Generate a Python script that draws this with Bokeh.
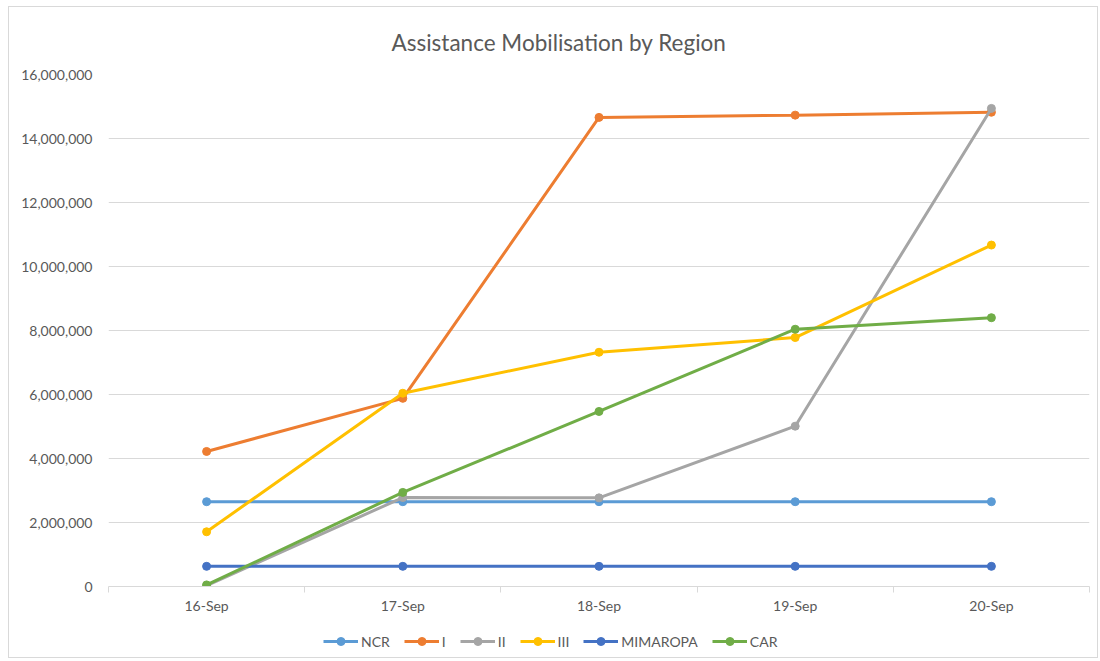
from bokeh.plotting import figure
from bokeh.layouts import column
from bokeh.models import Range1d, FixedTicker, NumeralTickFormatter, Legend, LegendItem
from bokeh.embed import file_html
from bokeh.resources import INLINE

dates = ["16-Sep", "17-Sep", "18-Sep", "19-Sep", "20-Sep"]
ncr = [2650000, 2650000, 2650000, 2650000, 2650000]
reg_i = [4220000, 5880000, 14660000, 14730000, 14820000]
reg_ii = [30000, 2780000, 2770000, 5010000, 14940000]
reg_iii = [1710000, 6040000, 7320000, 7780000, 10670000]
mimaropa = [630000, 630000, 630000, 630000, 630000]
car = [50000, 2940000, 5470000, 8040000, 8400000]

series_names = ["NCR", "I", "II", "III", "MIMAROPA", "CAR"]
series_values = [ncr, reg_i, reg_ii, reg_iii, mimaropa, car]
colors = ["#5B9BD5", "#ED7D31", "#A5A5A5", "#FFC000", "#4472C4", "#70AD47"]

FONT = "Lato"
GREY = "#595959"

xs = [i + 0.5 for i in range(len(dates))]

p = figure(width=1088, height=616, output_backend="svg", toolbar_location=None,
           x_range=Range1d(0, len(dates)), y_range=Range1d(0, 16000000),
           title="Assistance Mobilisation by Region",
           min_border_left=99, min_border_right=8, min_border_top=65, min_border_bottom=37)

p.title.align = "left"
p.title.text_font = FONT
p.title.text_font_size = "22.5px"
p.title.text_font_style = "normal"
p.title.text_color = GREY
p.title.offset = 283
p.title.standoff = 38

p.outline_line_color = None
p.background_fill_color = "white"
p.border_fill_color = "white"

p.xgrid.grid_line_color = None
p.ygrid.grid_line_color = "#d9d9d9"
p.ygrid.grid_line_width = 1

p.yaxis.ticker = FixedTicker(ticks=list(range(0, 16000001, 2000000)))
p.yaxis.formatter = NumeralTickFormatter(format="0,0")
p.yaxis.axis_line_color = None
p.yaxis.major_tick_line_color = None
p.yaxis.minor_tick_line_color = None
p.yaxis.major_label_text_font = FONT
p.yaxis.major_label_text_font_size = "14px"
p.yaxis.major_label_text_color = GREY
p.yaxis.major_label_standoff = 10

p.xaxis.ticker = FixedTicker(ticks=xs, minor_ticks=list(range(0, len(dates) + 1)))
p.xaxis.major_label_overrides = {x: d for x, d in zip(xs, dates)}
p.xaxis.axis_line_color = "#d9d9d9"
p.xaxis.major_tick_line_color = None
p.xaxis.minor_tick_line_color = "#d9d9d9"
p.xaxis.minor_tick_out = 6
p.xaxis.minor_tick_in = 0
p.xaxis.major_label_text_font = FONT
p.xaxis.major_label_text_font_size = "14px"
p.xaxis.major_label_text_color = GREY
p.xaxis.major_label_standoff = 4

# legend lives in its own strip below the chart; its renderers hold the same
# data but fall outside this strip's ranges, so only the legend shows
lg = figure(width=1088, height=34, output_backend="svg", toolbar_location=None,
            x_range=Range1d(-2, -1), y_range=Range1d(-2, -1),
            x_axis_location=None, y_axis_location=None,
            min_border_left=0, min_border_right=0, min_border_top=0, min_border_bottom=0)
lg.grid.visible = False
lg.outline_line_color = None
lg.border_fill_color = "white"

items = []
for name, vals, c in zip(series_names, series_values, colors):
    p.line(xs, vals, line_color=c, line_width=3)
    p.scatter(xs, vals, size=8, fill_color=c, line_color=c)
    r1 = lg.line(xs, vals, line_color=c, line_width=3)
    r2 = lg.scatter(xs, vals, size=8, fill_color=c, line_color=c)
    items.append(LegendItem(label=name, renderers=[r1, r2]))

legend = Legend(items=items, orientation="horizontal", location=(215, 6),
                label_text_font=FONT, label_text_font_size="14px", label_text_color=GREY,
                border_line_color=None, background_fill_alpha=0,
                glyph_width=35, glyph_height=20, label_standoff=3, spacing=14,
                label_width=0, padding=0, margin=0)
lg.add_layout(legend, "center")

layout = column(p, lg, spacing=0)
layout.margin = (6, 0, 0, 8)
layout.styles = {"border": "1px solid #d9d9d9", "background": "white"}

open("out.html", "w").write(file_html(layout, INLINE))
